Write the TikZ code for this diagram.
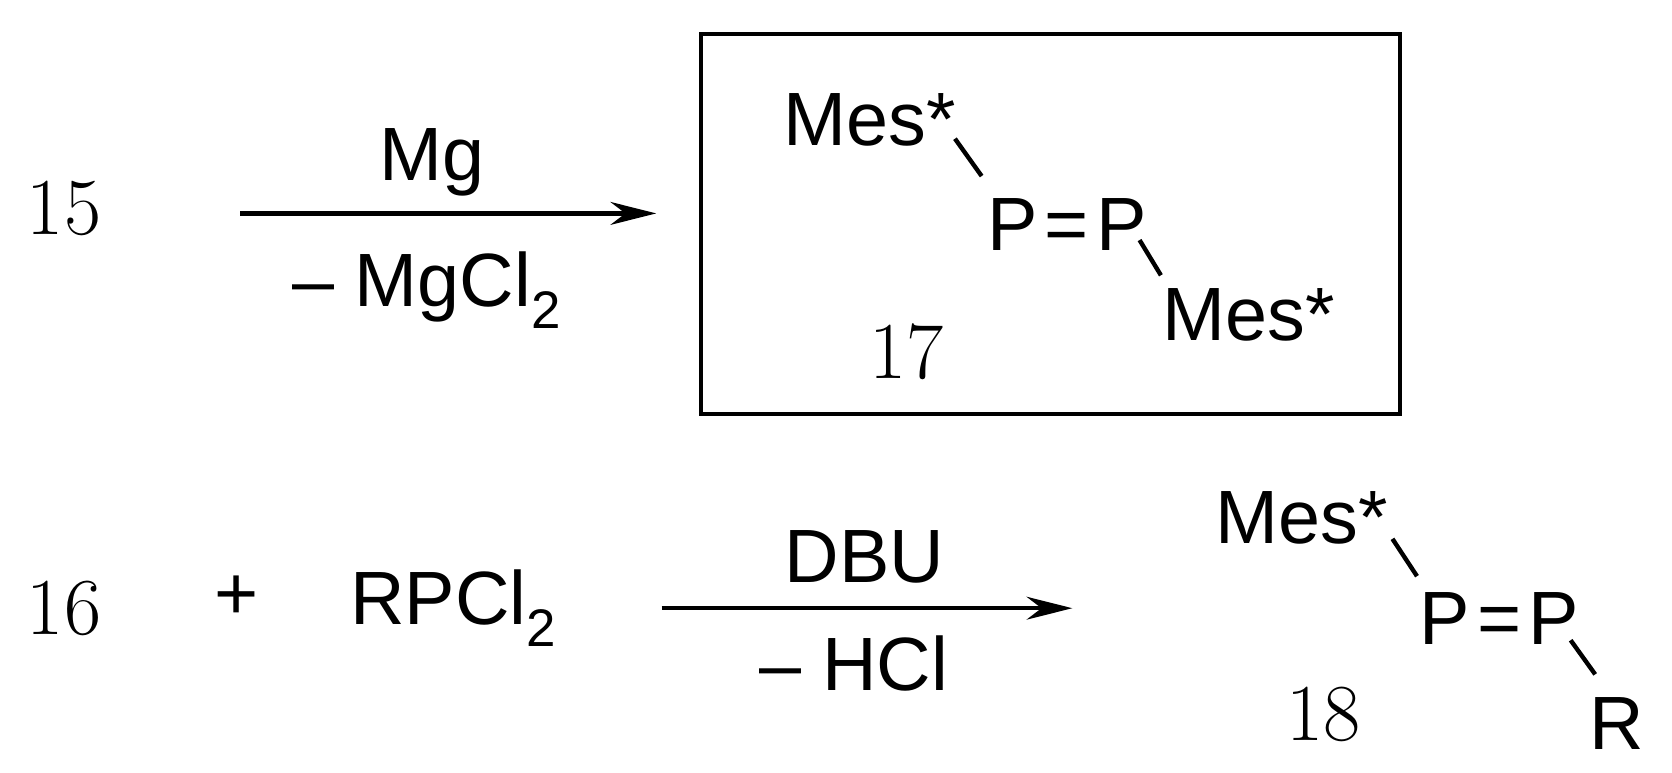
\documentclass[tikz,border=0pt]{standalone}
\usepackage{fontspec}
\newfontfamily\sfa{Liberation Sans}
\usetikzlibrary{arrows.meta}
\newcommand{\ppdb}{P\kern4pt=\kern4pt P}
\begin{document}
\begin{tikzpicture}[x=0.02134cm,y=-0.02134cm,
  lab/.style={font=\sfa\fontsize{43}{48}\selectfont,inner sep=0},
  num/.style={font=\fontsize{46}{50}\selectfont,inner sep=0},
  rx/.style={line width=2.5pt,-{Stealth[length=26pt,width=13pt]}},
  bond/.style={line width=2.5pt}]
\useasboundingbox (0,0) rectangle (1567,724);
% row 1
\node[num] (n15) at (60,195) {15};
\coordinate (a1s) at (225,200); \coordinate (a1e) at (615,200);
\draw[rx] (a1s) -- (a1e);
\node[lab] (mg) at (405,152) {Mg};
\node[lab] (mgcl) at (400,272) {– MgCl\textsubscript{2}};
\node[draw,line width=2.5pt,minimum width=655*0.02134cm,minimum height=356*0.02134cm,inner sep=0] (box) at (984.5,210) {};
\node[lab] (m1) at (815,112) {Mes*};
\node[lab] (pp1) at (1000,210) {\ppdb};
\node[lab] (m2) at (1170,295) {Mes*};
\node[num] (n17) at (850,330) {17};
\coordinate (b1a) at (895,130); \coordinate (b1b) at (920,165);
\coordinate (b2a) at (1068,225); \coordinate (b2b) at (1088,258);
\draw[bond] (b1a) -- (b1b); \draw[bond] (b2a) -- (b2b);
% row 2
\node[num] (n16) at (60,570) {16};
\node[lab] (plus) at (222,560) {+};
\node[lab] (rp) at (425,570) {RPCl\textsubscript{2}};
\coordinate (a2s) at (620,570); \coordinate (a2e) at (1005,570);
\draw[rx] (a2s) -- (a2e);
\node[lab] (dbu) at (810,522) {DBU};
\node[lab] (hcl) at (800,622) {– HCl};
\node[lab] (m3) at (1220,485) {Mes*};
\node[lab] (pp2) at (1405,580) {\ppdb};
\node[lab] (r) at (1515,678) {R};
\node[num] (n18) at (1240,670) {18};
\coordinate (b3a) at (1305,505); \coordinate (b3b) at (1328,540);
\coordinate (b4a) at (1472,600); \coordinate (b4b) at (1495,632);
\draw[bond] (b3a) -- (b3b); \draw[bond] (b4a) -- (b4b);
\end{tikzpicture}
\end{document}
